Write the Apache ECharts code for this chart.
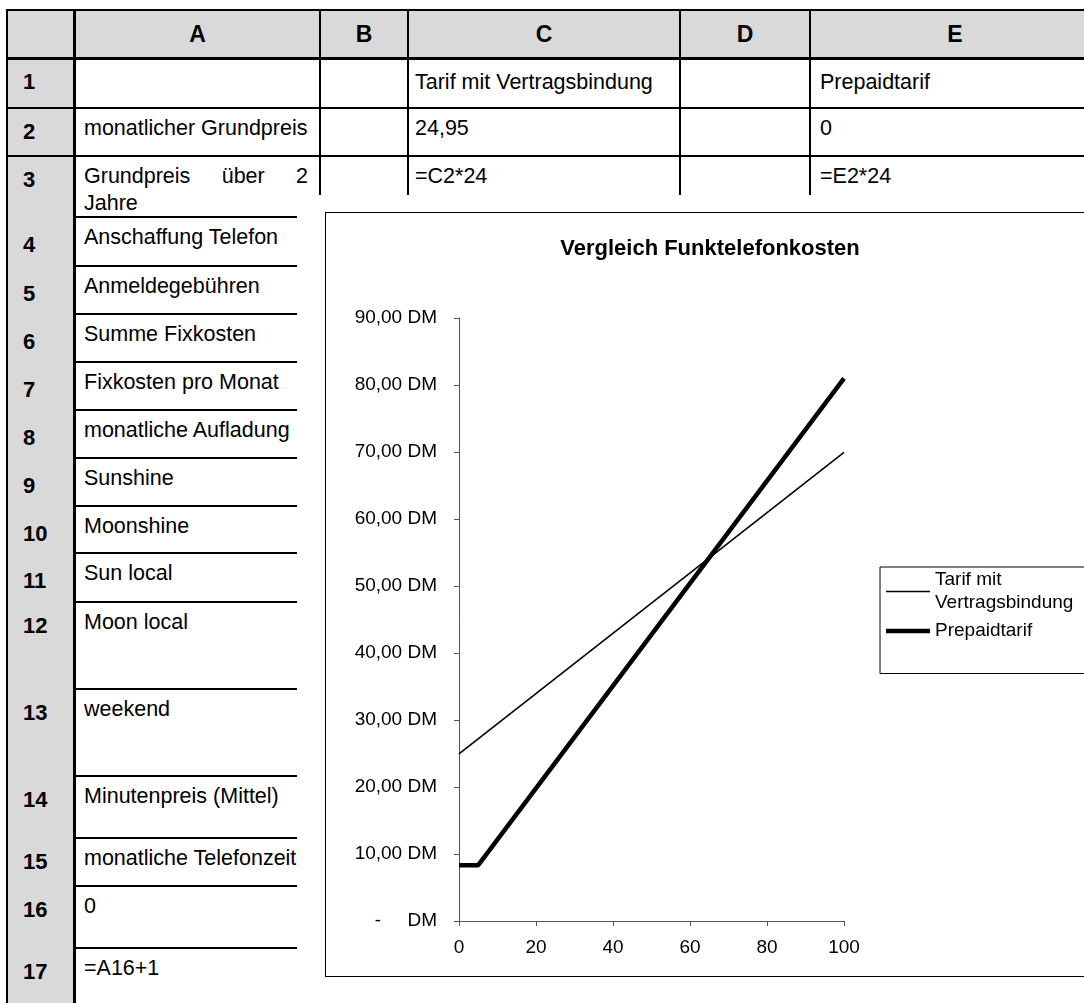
<!DOCTYPE html>
<html>
<head>
<meta charset="utf-8">
<title>Vergleich Funktelefonkosten</title>
<script src="https://cdn.jsdelivr.net/npm/echarts@6/dist/echarts.min.js"></script>
<style>
  html, body { margin: 0; padding: 0; width: 1084px; height: 1003px; overflow: hidden; background: #fff;
    font-family: "Liberation Sans", Arial, sans-serif; color: #000; }
  #sheet { position: absolute; left: 0; top: 0; width: 1084px; height: 1003px; overflow: hidden; }
  .ln { position: absolute; background: #000; }
  .gray { position: absolute; background: #d9d9d9; }
  .hd { position: absolute; font-weight: bold; font-size: 23px; text-align: center; line-height: 48px; top: 10px; }
  .rn { position: absolute; font-weight: bold; font-size: 22px; line-height: 26px; left: 23px; }
  .cell { position: absolute; font-size: 21.5px; line-height: 27px; white-space: nowrap; overflow: hidden; }
  .just { white-space: normal; text-align: justify; text-align-last: left; }
  #chartBox { position: absolute; left: 325px; top: 212px; width: 800px; height: 763px;
    border: 1px solid #000; background: #fff; }
  #chart { position: absolute; left: 0; top: 0; width: 768px; height: 763px; }
</style>
</head>
<body>
<div id="sheet"></div>
<div id="chartBox"><div id="chart"></div></div>
<script>
// ---- worksheet contents ----
const colHeaders = ['A', 'B', 'C', 'D', 'E'];
const colEdges = [75, 320, 408, 680, 810, 1100];
const rowNumbers = ['1','2','3','4','5','6','7','8','9','10','11','12','13','14','15','16','17'];
const rowEdges = [59, 108, 156, 217, 266, 314, 362, 410, 458, 506, 553, 602, 689, 776, 838, 886, 948, 1010];
const colA = ['', 'monatlicher Grundpreis', 'Grundpreis über 2 Jahre', 'Anschaffung Telefon', 'Anmeldegebühren',
  'Summe Fixkosten', 'Fixkosten pro Monat', 'monatliche Aufladung', 'Sunshine', 'Moonshine', 'Sun local',
  'Moon local', 'weekend', 'Minutenpreis (Mittel)', 'monatliche Telefonzeit', '0', '=A16+1'];
const colC = ['Tarif mit Vertragsbindung', '24,95', '=C2*24'];
const colE = ['Prepaidtarif', '0', '=E2*24'];

// ---- chart data ----
const seriesNames = ['Tarif mit Vertragsbindung', 'Prepaidtarif'];
const contractMinutes = [0, 100];
const contractCost = [24.95, 69.95];
const prepaidMinutes = [0, 5, 100];
const prepaidCost = [8.33, 8.33, 81.0];
const yTicks = [0, 10, 20, 30, 40, 50, 60, 70, 80, 90];
const xTicks = [0, 20, 40, 60, 80, 100];

// ---- build worksheet grid ----
const sheet = document.getElementById('sheet');
function box(cls, l, t, w, h, text) {
  const d = document.createElement('div');
  d.className = cls;
  d.style.left = l + 'px'; d.style.top = t + 'px';
  if (w != null) d.style.width = w + 'px';
  if (h != null) d.style.height = h + 'px';
  if (text != null) d.textContent = text;
  sheet.appendChild(d);
  return d;
}
// shaded headers
box('gray', 7, 10, 1084, 48);
box('gray', 7, 10, 67, 1000);
// column header labels
colHeaders.forEach((c, i) => {
  box('hd', colEdges[i], null, colEdges[i + 1] - colEdges[i], null, c).style.top = '10px';
});
// row numbers
rowNumbers.forEach((n, i) => {
  const top = rowEdges[i];
  const off = i === 0 ? 23 : (i >= 3 && i <= 10 ? 28 : 24);
  box('rn', 23, top + off - 13, null, null, n);
});
// column A cells
colA.forEach((t, i) => {
  if (!t) return;
  const top = rowEdges[i];
  const off = i === 0 ? 23 : 20;
  if (i === 2) {
    box('cell just', 84, top + off - 13.5, 224, 60, t);
  } else {
    box('cell', 84, top + off - 13.5, i < 2 ? 226 : 213, 27, t);
  }
});
colC.forEach((t, i) => {
  const off = i === 0 ? 23 : 20;
  box('cell', colEdges[2] + 7, rowEdges[i] + off - 13.5, 262, 27, t);
});
colE.forEach((t, i) => {
  const off = i === 0 ? 23 : 20;
  box('cell', colEdges[4] + 10, rowEdges[i] + off - 13.5, 260, 27, t);
});
// grid lines
box('ln', 7, 9, 1084, 2);          // top border
box('ln', 6, 9, 2, 1000);          // left border
box('ln', 73, 9, 3, 1000);         // right edge of row headers
box('ln', 7, 57, 1084, 3);         // under column headers
box('ln', 7, 107, 1084, 2);        // under row 1
box('ln', 7, 155, 1084, 2);        // under row 2
for (let i = 3; i < rowEdges.length - 1; i++) {
  box('ln', 76, rowEdges[i] - 1, 221, 2);
}
for (let i = 1; i < colEdges.length - 1; i++) {
  box('ln', colEdges[i] - 1, 10, 2, 185);
}

// ---- chart ----
const chart = echarts.init(document.getElementById('chart'), null, { renderer: 'canvas' });
const font = '"Liberation Sans", Arial, sans-serif';
const fmtDM = v => v === 0 ? '-     DM' : v.toFixed(2).replace('.', ',') + ' DM';

chart.setOption({
  animation: false,
  backgroundColor: '#fff',
  title: {
    text: 'Vergleich Funktelefonkosten',
    left: 'center',
    top: 25,
    padding: 0,
    textStyle: { fontFamily: font, fontSize: 22, fontWeight: 'bold', color: '#000' }
  },
  grid: { left: 133, top: 105, width: 385, height: 603, containLabel: false },
  xAxis: {
    type: 'value',
    min: xTicks[0], max: xTicks[xTicks.length - 1], interval: xTicks[1] - xTicks[0],
    axisLine: { lineStyle: { color: '#555', width: 1 } },
    axisTick: { show: true, length: 5, lineStyle: { color: '#555' } },
    axisLabel: { margin: 17, fontFamily: font, fontSize: 19, color: '#000' },
    splitLine: { show: false }
  },
  yAxis: {
    type: 'value',
    min: yTicks[0], max: yTicks[yTicks.length - 1], interval: yTicks[1] - yTicks[0],
    axisLine: { show: true, lineStyle: { color: '#555', width: 1 } },
    axisTick: { show: true, length: 5, lineStyle: { color: '#555' } },
    axisLabel: { margin: 22, fontFamily: font, fontSize: 19, color: '#000', formatter: fmtDM },
    splitLine: { show: false }
  },
  legend: {
    orient: 'vertical',
    align: 'left',
    left: 554,
    top: 354,
    padding: [3.5, 22, 31, 6],
    itemGap: 7,
    itemWidth: 44,
    itemHeight: 14,
    borderColor: '#000',
    borderWidth: 1,
    backgroundColor: '#fff',
    textStyle: { fontFamily: font, fontSize: 19, lineHeight: 23, color: '#000' },
    formatter: name => name === seriesNames[0] ? 'Tarif mit\nVertragsbindung' : name,
    data: [
      { name: seriesNames[0], icon: 'path://M0,0H44V1.6H0Z',
        textStyle: { fontFamily: font, fontSize: 19, lineHeight: 23, color: '#000', padding: [0, 0, -23, 0] } },
      { name: seriesNames[1], icon: 'path://M0,0H44V4.5H0Z' }
    ]
  },
  series: [
    {
      name: seriesNames[0], type: 'line', symbol: 'none',
      color: '#000',
      lineStyle: { color: '#000', width: 1.6 },
      data: contractMinutes.map((m, i) => [m, contractCost[i]])
    },
    {
      name: seriesNames[1], type: 'line', symbol: 'none',
      color: '#000',
      lineStyle: { color: '#000', width: 4.5 },
      data: prepaidMinutes.map((m, i) => [m, prepaidCost[i]])
    }
  ]
});
</script>
</body>
</html>
